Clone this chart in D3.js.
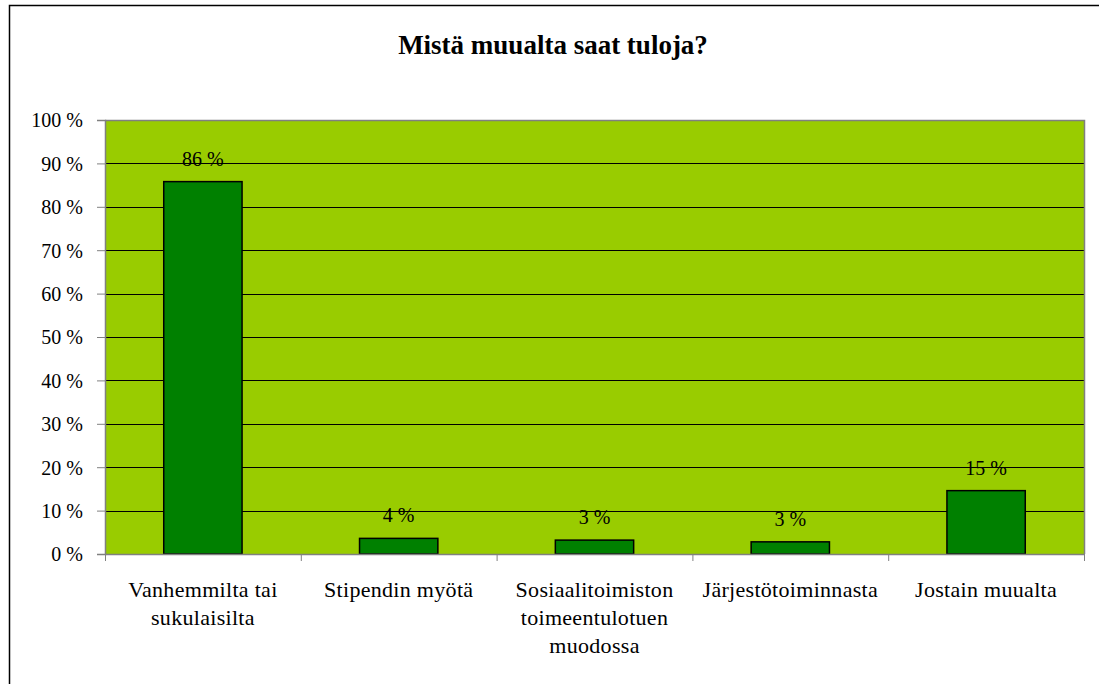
<!DOCTYPE html>
<html>
<head>
<meta charset="utf-8">
<script src="https://cdn.jsdelivr.net/npm/d3@7"></script>
<style>
  html, body { margin: 0; padding: 0; background: #ffffff; }
  svg { display: block; }
</style>
</head>
<body>
<svg id="chart" width="1099" height="684"></svg>
<script>
const title = "Mistä muualta saat tuloja?";
const categories = [
  ["Vanhemmilta tai", "sukulaisilta"],
  ["Stipendin myötä"],
  ["Sosiaalitoimiston", "toimeentulotuen", "muodossa"],
  ["Järjestötoiminnasta"],
  ["Jostain muualta"]
];
const values = [85.8, 3.6, 3.2, 2.8, 14.6];
const valueLabels = ["86 %", "4 %", "3 %", "3 %", "15 %"];
const yTicks = [0, 10, 20, 30, 40, 50, 60, 70, 80, 90, 100];

const FONT = "Liberation Serif";

const svg = d3.select("#chart");
const W = 1099, H = 684;
const plot = { left: 105, top: 120, right: 1084, bottom: 554 };

svg.append("rect")
  .attr("x", 9.5).attr("y", 5.5)
  .attr("width", W + 10).attr("height", H + 10)
  .attr("fill", "#fff").attr("stroke", "#000").attr("stroke-width", 1.5);

svg.append("text")
  .attr("x", 553).attr("y", 54)
  .attr("text-anchor", "middle")
  .attr("font-family", FONT)
  .attr("font-size", 27).attr("font-weight", "bold")
  .text(title);

const x = d3.scaleBand()
  .domain(d3.range(categories.length))
  .range([plot.left, plot.right])
  .paddingInner(0.6).paddingOuter(0.3);
const xOuter = d3.scaleBand()
  .domain(d3.range(categories.length))
  .range([plot.left, plot.right]);
const y = d3.scaleLinear().domain([0, 100]).range([plot.bottom, plot.top]);

svg.append("rect")
  .attr("x", plot.left).attr("y", plot.top)
  .attr("width", plot.right - plot.left).attr("height", plot.bottom - plot.top)
  .attr("fill", "#99CC00");

svg.append("g").selectAll("line")
  .data(yTicks.filter(d => d > 0 && d < 100))
  .join("line")
  .attr("x1", plot.left).attr("x2", plot.right)
  .attr("y1", d => Math.round(y(d)) + 0.5).attr("y2", d => Math.round(y(d)) + 0.5)
  .attr("stroke", "#000").attr("stroke-width", 1);

svg.append("path")
  .attr("d", `M${plot.left},${plot.top + 0.5}H${plot.right + 0.5}V${plot.bottom}`)
  .attr("fill", "none").attr("stroke", "#808080").attr("stroke-width", 1.5);

const yAxis = d3.axisLeft(y).tickValues(yTicks).tickSize(8).tickPadding(14)
  .tickFormat(d => d + " %");
const gy = svg.append("g").attr("transform", `translate(${plot.left},0)`).call(yAxis);
gy.attr("font-family", FONT).attr("font-size", 20);
gy.select(".domain").attr("stroke", "#808080").attr("stroke-width", 1.5);
gy.selectAll(".tick line").attr("stroke", "#808080");
gy.selectAll(".tick text").attr("fill", "#000").attr("dy", "0.34em");

svg.append("g").selectAll("rect")
  .data(values)
  .join("rect")
  .attr("x", (d, i) => x(i)).attr("width", x.bandwidth())
  .attr("y", d => y(d)).attr("height", d => y(0) - y(d))
  .attr("fill", "#008000").attr("stroke", "#000").attr("stroke-width", 1.5);

svg.append("g").selectAll("text")
  .data(values)
  .join("text")
  .attr("x", (d, i) => x(i) + x.bandwidth() / 2)
  .attr("y", d => y(d) - 16)
  .attr("text-anchor", "middle")
  .attr("font-family", FONT).attr("font-size", 20)
  .text((d, i) => valueLabels[i]);

svg.append("line")
  .attr("x1", plot.left).attr("x2", plot.right + 0.5)
  .attr("y1", plot.bottom + 0.5).attr("y2", plot.bottom + 0.5)
  .attr("stroke", "#808080").attr("stroke-width", 1.5);
svg.append("g").selectAll("line")
  .data(d3.range(categories.length + 1))
  .join("line")
  .attr("x1", i => i < categories.length ? xOuter(i) + 0.5 : plot.right + 0.5)
  .attr("x2", i => i < categories.length ? xOuter(i) + 0.5 : plot.right + 0.5)
  .attr("y1", plot.bottom).attr("y2", plot.bottom + 7)
  .attr("stroke", "#808080");

const cat = svg.append("g").selectAll("text")
  .data(categories)
  .join("text")
  .attr("x", (d, i) => xOuter(i) + xOuter.bandwidth() / 2)
  .attr("y", 597)
  .attr("text-anchor", "middle")
  .attr("font-family", FONT).attr("font-size", 22)
  .attr("letter-spacing", 0.3);
cat.selectAll("tspan")
  .data(d => d)
  .join("tspan")
  .attr("x", function() { return this.parentNode.getAttribute("x"); })
  .attr("dy", (d, i) => i === 0 ? 0 : 28)
  .text(d => d);
</script>
</body>
</html>
